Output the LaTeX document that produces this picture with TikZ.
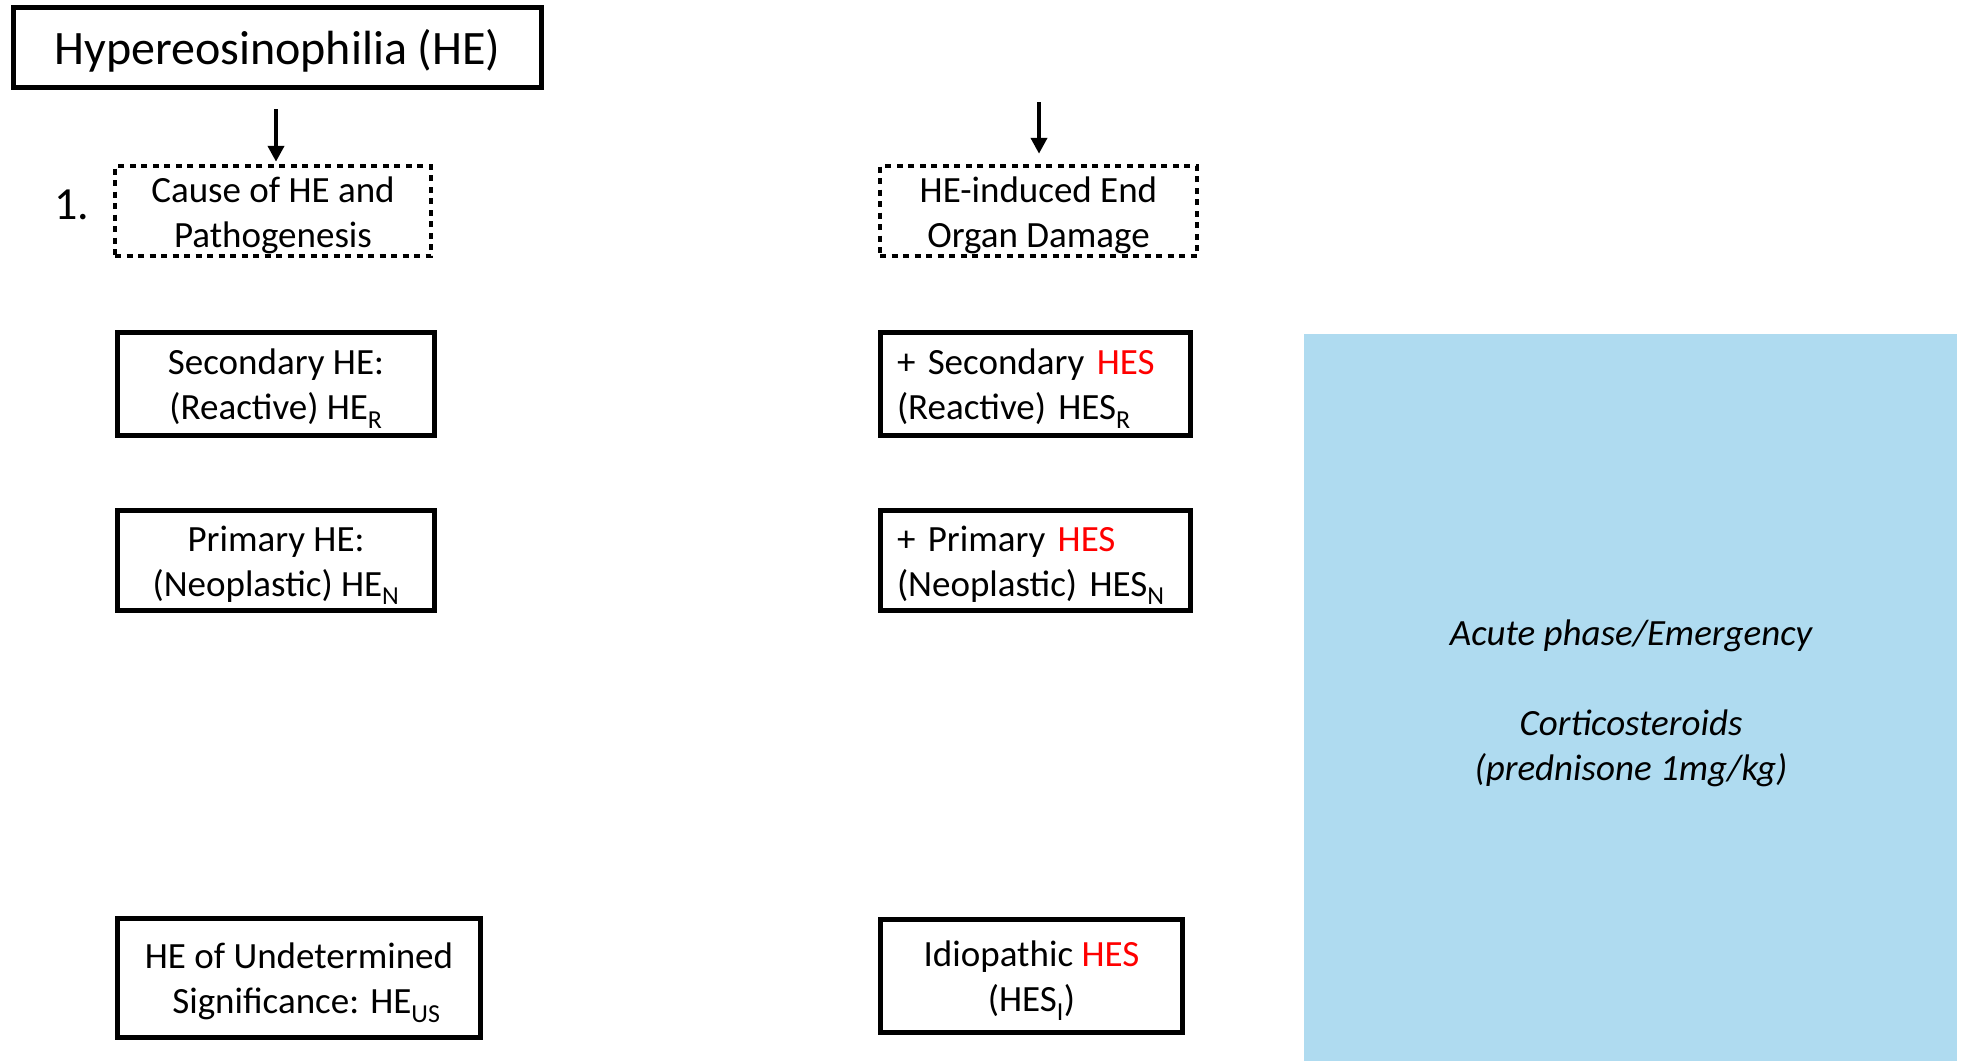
\documentclass[tikz,border=0pt]{standalone}
\usepackage{fontspec}
\setmainfont{Carlito}
\usetikzlibrary{arrows.meta}
\definecolor{panelblue}{RGB}{175,219,240}
\definecolor{hesred}{RGB}{255,0,0}
\newcommand{\hes}{\textcolor{hesred}{HES}}
\newcommand{\topstrut}{\rule{0pt}{35pt}}
\begin{document}
\begin{tikzpicture}[x=1pt,y=-1pt,
  txt/.style={font=\fontsize{37}{45}\selectfont},
  solidbox/.style={draw,line width=5pt,rectangle,inner sep=0pt,txt,align=center},
  dotbox/.style={draw,line width=4.5pt,dash pattern=on 6pt off 5.5pt,rectangle,inner sep=0pt,txt,align=center},
  leftbox/.style={solidbox,align=left,text width=277pt},
  arr/.style={line width=4pt,-{Triangle[length=16pt,width=16pt]}}]
\useasboundingbox (0,0) rectangle (1967,1061);

% treatment panel
\fill[panelblue] (1304,334) rectangle (1957,1061);
\node[txt,align=center,font=\fontsize{37}{45}\selectfont\itshape] (acute) at (1631,703)
  {Acute phase/Emergency\\[45pt]Corticosteroids\\(prednisone 1mg/kg)};

% title
\node[solidbox,minimum width=528pt,minimum height=80pt,font=\fontsize{48}{58}\selectfont] (he) at (277.5,47.5)
  {\rule{0pt}{42pt}Hypereosinophilia (HE)};

% headings
\node[dotbox,minimum width=316pt,minimum height=90pt] (cause) at (273,211)
  {\topstrut Cause of HE and\\Pathogenesis};
\node[dotbox,minimum width=317pt,minimum height=90pt] (damage) at (1038.5,211)
  {\topstrut HE-induced End\\Organ Damage};
\node[anchor=base west,inner sep=0pt,font=\fontsize{46}{55}\selectfont] (num) at (54,219) {1.};

\coordinate (a1) at (276,109);
\coordinate (a2) at (1039,102);
\draw[arr,shorten >=2pt] (a1) -- (a1 |- cause.north);
\draw[arr,shorten >=10pt] (a2) -- (a2 |- damage.north);

% left column
\node[solidbox,minimum width=317pt,minimum height=103pt] (sechE) at (276,384)
  {\topstrut Secondary HE:\\(Reactive) HE\textsubscript{R}};
\node[solidbox,minimum width=317pt,minimum height=100pt] (primhE) at (276,560.5)
  {\topstrut Primary HE:\\(Neoplastic) HE\textsubscript{N}};
\node[solidbox,minimum width=363pt,minimum height=119pt] (heus) at (299,978)
  {\topstrut HE of Undetermined\\\hspace*{0.4em}Significance: HE\textsubscript{US}};

% right column
\node[leftbox,minimum width=310pt,minimum height=103pt] (seches) at (1035.5,384)
  {\topstrut + Secondary \hes\\(Reactive) HES\textsubscript{R}};
\node[leftbox,minimum width=310pt,minimum height=100pt] (primhes) at (1035.5,560.5)
  {\topstrut + Primary \hes\\(Neoplastic) HES\textsubscript{N}};
\node[solidbox,minimum width=302pt,minimum height=113pt] (idio) at (1031.5,976)
  {\topstrut Idiopathic \hes\\(HES\textsubscript{I})};
\end{tikzpicture}
\end{document}
